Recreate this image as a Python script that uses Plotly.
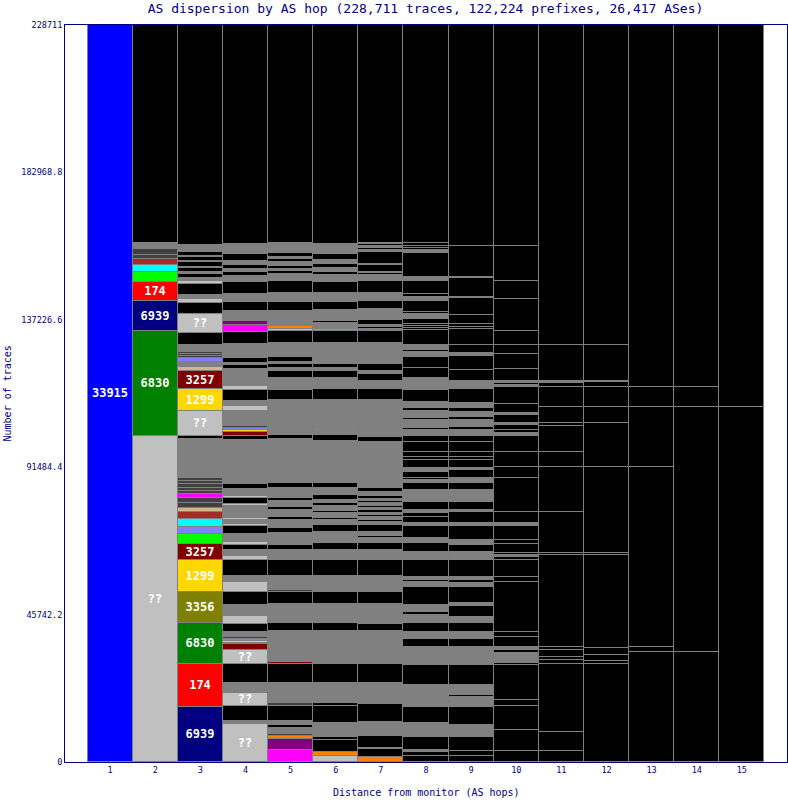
import plotly.graph_objects as go

TOTAL = 228711
TITLE = "AS dispersion by AS hop (228,711 traces, 122,224 prefixes, 26,417 ASes)"
hops = list(range(1, 16))
y_tick_vals = [0, 45742.2, 91484.4, 137226.6, 182968.8, 228711]
y_tick_text = ["0", "45742.2", "91484.4", "137226.6", "182968.8", "228711"]

# Segments per hop, listed bottom-up: trace counts and AS / colour keys.
# Traces not accounted for by the listed segments fill the rest of the column (black).
hop1_counts = [228711]
hop1_keys = ["33915"]

hop2_counts = [101160, 32580, 9310, 5900, 3100, 2080, 1860, 1430, 1680, 930, 930]
hop2_keys = ["??", "6830", "6939", "174", "lime", "cyan", "brown", "D", "D", "G", "G"]

hop3_counts = [17160, 13160, 12720, 9810, 9840, 4870, 3290, 2170, 2300, 2170, 1430, 1550, 1370, 1240,
               1030, 1030, 1030, 1030, 1030, 12010, 930, 7760, 6730, 5770, 1240, 1550, 1030, 690, 690, 690,
               2080, 3600, 6020, 3290, 1340, 1240, 3410, 1030, 840, 1240, 620, 1240, 310, 1550, 310, 1240,
               310, 1240, 2080]
hop3_keys = ["6939", "174", "6830", "3356", "1299", "3257", "lime", "slate", "cyan", "brown", "tan", "D", "D",
             "magenta", "D", "D", "D", "D", "D", "G", "B", "??", "1299", "3257", "tan", "G", "slate", "D", "D",
             "D", "G", "B", "??", "B", "L", "G", "B", "L", "G", "B", "G", "B", "G", "B", "G", "B", "G", "B", "G"]

hop4_counts = [11700, 1020, 4750, 3850, 500, 2610, 5900, 4440, 1770, 310, 620, 620, 620, 1770, 2390, 2580,
               3320, 4130, 2890, 2080, 4960, 1020, 2080, 1460, 1020, 2390, 2360, 740, 1330, 620, 3720, 620,
               1860, 620, 2170, 1460, 13750, 1240, 1020, 840, 620, 620, 4650, 1550, 1550, 3410, 1240, 5280,
               1240, 620, 1550, 4250, 3820, 2080, 1240, 400, 2790, 2580, 2610, 3600, 2080, 1020, 1050, 1240,
               1330, 1950, 3320]
hop4_keys = ["??", "G", "B", "??", "D", "G", "B", "??", "maroon", "B", "gold", "slate", "D", "G", "B", "L",
             "G", "B", "L", "G", "B", "L", "G", "B", "L", "G", "B", "L", "G", "L", "G", "L",
             "B", "L", "G", "B", "G", "B", "maroon", "gold", "slate", "D", "G", "L", "G", "B", "L", "G",
             "B", "G", "B", "G", "B", "magenta", "purple", "orange", "G", "B", "G", "B", "G", "B", "G", "B",
             "G", "B", "G"]

hop5_counts = [3720, 3410, 930, 530, 2050, 840, 1240, 4750, 740, 6210, 5900, 560, 470, 3940, 310, 5060,
               2390, 5900, 3910, 530, 4440, 4870, 3100, 1550, 3720, 1550, 2480, 930, 2170, 930, 1860, 930,
               400, 2700, 1460, 13750, 1240,
               930, 310, 930, 310, 8380, 3100, 3720, 2170, 930, 1240, 620, 1550, 4250, 3820, 620, 830,
               2170, 310, 2170, 2890, 2790, 3720, 2170, 930, 620, 930, 1240, 930, 620, 1240, 3100]
hop5_keys = ["magenta", "purple", "orange", "D", "G", "B", "G", "B", "D", "G", "B", "maroon", "gold", "G", "L", "G",
             "B", "G", "B", "D", "G", "B", "G", "B", "G", "B", "G", "B", "G", "B", "G", "B",
             "orange", "G", "B", "G", "B",
             "G", "B", "G", "B", "G", "B", "G", "B", "G", "B", "G", "B", "G", "B", "L", "orange",
             "G", "B", "G", "B", "G", "B", "G", "B", "G", "B", "G", "B", "G", "B", "G"]

hop6_counts = [1950, 1240, 3630, 1020, 4160, 5460, 740, 6210, 5900, 5990, 310, 4030, 2390, 2580, 310, 3010,
               3910, 4960, 4870, 3100, 2170, 1550, 310, 1640, 2080, 1550, 620, 1550, 620, 1550, 930, 930,
               1550, 2170, 1460, 3200, 400, 9530, 1860,
               930, 310, 930, 310, 8380, 3410, 3410, 2170, 930, 1240, 6420, 3820, 620, 1860, 620, 2170,
               1240, 2580, 2610, 3600, 2080, 1020, 1050, 1240, 1330, 1950, 1550, 1550]
hop6_keys = ["L", "orange", "B", "B", "G", "B", "B", "G", "B", "G", "B", "G", "B", "G", "B", "G",
             "B", "G", "B", "G", "B", "G", "B", "G", "B", "G", "B", "G", "B", "G", "B", "G",
             "B", "G", "B", "G", "B", "G", "B",
             "G", "B", "G", "B", "G", "B", "G", "B", "G", "B", "G", "B", "orange", "G", "B", "G",
             "G", "B", "G", "B", "G", "B", "G", "B", "G", "B", "G", "G"]

hop7_counts = [1650, 2300, 310, 3720, 4340, 5590, 310, 310, 3100, 310, 2480, 5900, 1550, 310, 1240, 310,
               2480, 4340, 2390, 2480, 310, 3230, 3910, 4960, 4870, 3100, 2170, 1550, 620, 1240, 2170,
               930, 620, 930, 620, 620, 930, 620, 620, 930, 620, 620, 930, 1240, 1240, 1240, 3260, 310,
               9530, 1630, 930,
               930, 310, 620, 310, 8380, 3410, 930, 310, 1240, 2170, 930, 2170, 2480, 4020, 3720, 620,
               620, 620, 1550, 1860, 310, 1240, 2480, 2480, 3720, 1860, 620, 310, 2170, 310, 3720, 620,
               620, 620, 620, 310]
hop7_keys = ["orange", "B", "G", "B", "G", "B", "G", "B", "G", "B", "G", "B", "G", "B", "G", "B",
             "G", "G", "B", "G", "B", "G", "B", "G", "B", "G", "B", "G", "B", "G", "B",
             "G", "B", "G", "B", "G", "B", "G", "B", "G", "B", "G", "B", "G", "B", "G", "G", "B",
             "G", "B", "G",
             "G", "B", "G", "B", "G", "B", "G", "B", "G", "B", "G", "B", "G", "G", "B", "G",
             "B", "G", "B", "G", "B", "G", "B", "G", "B", "G", "B", "G", "B", "G", "B", "G",
             "B", "G", "B", "G"]

hop8_counts = [1860, 1340, 530, 4130, 1550, 310, 2300, 5150, 2170, 310, 1550, 310, 2390, 6210, 5680, 2300,
               2360, 2610, 2580, 1020, 2080, 5680, 1550, 530, 1020, 5180, 2580, 2610, 1550, 3820, 840, 1860,
               1240, 1020, 2580, 1240, 310, 930, 310, 840, 2080, 1020, 530, 2050, 1050, 2580, 1020, 1550,
               3100, 1770, 1860,
               530, 2580, 620, 2170, 840, 2050, 3630, 2080, 310, 1430, 2920, 3600, 1370, 710, 530, 500,
               530, 4650, 470, 620, 680, 1650, 1460, 620, 3600, 1240, 740, 4130, 1330, 7260, 1020, 710,
               620, 680]
hop8_keys = ["B", "B", "G", "B", "G", "B", "G", "B", "G", "B", "G", "B", "G", "B", "G", "B",
             "G", "B", "G", "B", "G", "B", "G", "B", "G", "B", "G", "B", "G", "B", "G", "B",
             "B", "G", "B", "G", "B", "G", "B", "G", "B", "G", "B", "B", "G", "B", "B", "B",
             "B", "B", "G",
             "B", "G", "B", "G", "B", "G", "B", "G", "B", "G", "B", "B", "G", "B", "G", "B",
             "G", "B", "B", "B", "B", "B", "G", "B", "B", "G", "B", "B", "G", "B", "G", "B",
             "B", "B"]

hop9_counts = [1860, 1640, 4340, 1550, 310, 1770, 5680, 1550, 310, 1240, 620, 930, 310, 1770, 6210, 1860,
               310, 1550, 310, 1650, 2300, 930, 310, 1120, 2610, 2050, 3320, 930, 5060, 1050, 1020, 1020,
               5180, 930, 310, 1340, 2080, 1550, 4340, 840, 3600, 530, 2580, 1240, 310, 1240, 310, 530,
               2080, 1550, 2580, 710, 2390, 1020, 1550, 3100, 1770, 1860,
               1020, 2080, 1020, 1550, 1240, 1370, 4440, 1460, 310, 810, 3320, 4440, 740, 2580, 4960, 710,
               750, 2890, 5180, 500, 5710, 500, 9430]
hop9_keys = ["B", "B", "B", "G", "B", "G", "B", "G", "B", "G", "B", "G", "B", "G", "B", "G",
             "B", "G", "B", "G", "B", "G", "B", "G", "B", "G", "B", "G", "B", "G", "B", "G",
             "B", "G", "B", "G", "B", "G", "B", "G", "B", "G", "B", "G", "B", "G", "B", "G",
             "B", "G", "B", "G", "B", "B", "B", "B", "B", "G",
             "B", "G", "B", "G", "B", "G", "B", "G", "B", "G", "B", "B", "G", "B", "B", "B",
             "B", "B", "B", "B", "B", "B", "B"]

hop10_counts = [3510, 6420, 7450, 1860, 10860, 530, 1550, 500, 1240, 840, 1020, 3100, 1370, 15520, 1550,
                5370, 930, 620, 710, 2610, 1330, 4340, 840, 3600, 10360, 3410, 4840, 4870, 930, 930,
                1550, 620, 2480, 620, 2700, 5280, 710, 530, 810, 3540, 4650, 2890, 4340, 9930, 5590, 10770]
hop10_keys = ["B", "B", "B", "B", "B", "B", "G", "B", "G", "B", "G", "B", "B", "B", "B",
              "B", "B", "G", "B", "B", "B", "B", "G", "B", "B", "B", "B", "B", "G", "B",
              "B", "G", "B", "G", "B", "B", "G", "B", "G", "B", "B", "B", "B", "B", "B", "B"]

hop11_counts = [3510, 5900, 20910, 1330, 1020, 2080, 1020, 28460, 710, 12720, 13780, 4840, 7990, 840, 5150,
                6020, 1240, 810, 11080]
hop11_keys = ["B", "B", "B", "B", "B", "B", "B", "B", "B", "B", "B", "B", "B", "B", "B",
              "B", "B", "G", "B"]

hop12_counts = [30320, 1020, 1860, 2080, 28950, 710, 26500, 13650, 5150, 6020, 1550, 400, 11170]
hop12_keys = ["B", "B", "B", "B", "B", "B", "B", "B", "B", "B", "B", "G", "B"]

hop13_counts = [34040, 1550, 55850, 18620, 6210]
hop13_keys = ["B", "B", "B", "B", "B"]

hop14_counts = [34040, 76020, 6210]
hop14_keys = ["B", "B", "B"]

hop15_counts = [110060]
hop15_keys = ["B"]

COLORS = {
    "33915": "#0000ff", "6830": "#008000", "6939": "#000080", "174": "#ff0000",
    "3257": "#800000", "1299": "#ffd700", "3356": "#808000", "??": "#c0c0c0",
    "L": "#c0c0c0", "lime": "#00ff00", "cyan": "#00ffff", "brown": "#a52a2a",
    "D": "#404040", "G": "#808080", "B": "#000000", "tan": "#d2b48c",
    "slate": "#8080ff", "magenta": "#ff00ff", "purple": "#800080",
    "orange": "#ff8000", "gold": "#ffd700", "maroon": "#800000",
}
LABELED = {"33915", "6830", "6939", "174", "3257", "1299", "3356", "??"}

columns = [
    (1, hop1_counts, hop1_keys), (2, hop2_counts, hop2_keys), (3, hop3_counts, hop3_keys),
    (4, hop4_counts, hop4_keys), (5, hop5_counts, hop5_keys), (6, hop6_counts, hop6_keys),
    (7, hop7_counts, hop7_keys), (8, hop8_counts, hop8_keys), (9, hop9_counts, hop9_keys),
    (10, hop10_counts, hop10_keys), (11, hop11_counts, hop11_keys), (12, hop12_counts, hop12_keys),
    (13, hop13_counts, hop13_keys), (14, hop14_counts, hop14_keys), (15, hop15_counts, hop15_keys),
]

xs, bases, heights, colors, texts = [], [], [], [], []
for hop, counts, keys in columns:
    counts = list(counts)
    keys = list(keys)
    rest = TOTAL - sum(counts)
    if rest > 0:
        counts.append(rest)
        keys.append("B")
    b = 0
    for c, k in zip(counts, keys):
        xs.append(hop)
        bases.append(b)
        heights.append(c)
        colors.append(COLORS[k])
        texts.append(k if k in LABELED else "")
        b += c

NAVY = "#000080"
MONO = "DejaVu Sans Mono"

fig = go.Figure()
fig.add_trace(go.Bar(
    x=xs, y=heights, base=bases, width=1,
    marker=dict(color=colors, line=dict(color="#808080", width=1)),
    text=texts, textposition="inside", insidetextanchor="middle", textangle=0,
    constraintext="none",
    textfont=dict(family=MONO, size=12, color="white", weight="bold"),
    hoverinfo="skip",
))

fig.update_layout(
    width=788, height=800,
    margin=dict(l=65, r=1, t=25, b=38),
    paper_bgcolor="white", plot_bgcolor="white",
    barmode="overlay", bargap=0, showlegend=False,
    title=dict(text=TITLE, x=0.54, xanchor="center", y=0.989, yanchor="middle", yref="container",
               font=dict(family=MONO, size=13, color=NAVY)),
    xaxis=dict(range=[0, 16], tickvals=hops, ticktext=[str(h) for h in hops],
               tickfont=dict(family=MONO, size=8.5, color=NAVY),
               showline=True, linecolor=NAVY, linewidth=1, mirror=True,
               showgrid=False, zeroline=False, ticks=""),
    yaxis=dict(range=[0, TOTAL], tickvals=y_tick_vals, ticktext=y_tick_text,
               tickfont=dict(family=MONO, size=8.5, color=NAVY),
               showline=True, linecolor=NAVY, linewidth=1, mirror=True,
               showgrid=False, zeroline=False, ticks=""),
    annotations=[
        dict(text="Distance from monitor (AS hops)", xref="paper", yref="paper", x=0.5, y=-0.042,
             showarrow=False, font=dict(family=MONO, size=10, color=NAVY), yanchor="middle"),
        dict(text="Number of traces", xref="paper", yref="paper", x=-0.079, y=0.5, textangle=-90,
             showarrow=False, font=dict(family=MONO, size=10, color=NAVY), xanchor="center"),
    ],
)

fig.write_html("out.html", config={"displayModeBar": False},
               post_script="document.body.style.margin='0';")
